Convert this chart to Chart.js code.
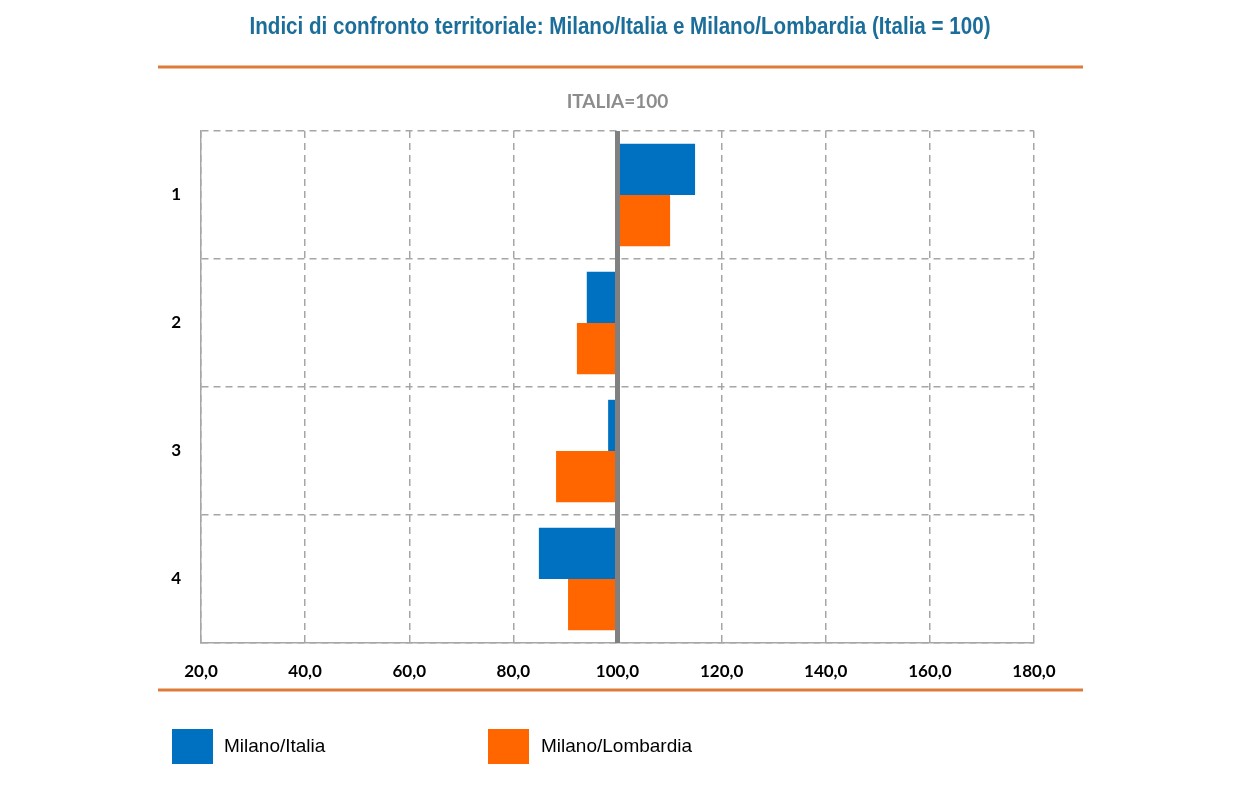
<!DOCTYPE html>
<html>
<head>
<meta charset="utf-8">
<script src="https://cdn.jsdelivr.net/npm/chart.js@4"></script>
<style>
  body { margin: 0; background: #fff; }
  #wrap { width: 1241px; height: 786px; position: relative; }
</style>
</head>
<body>
<div id="wrap"><canvas id="myChart"></canvas></div>
<script>
// data
const categories = ['1', '2', '3', '4'];
const milanoItalia = [114.9, 94.1, 98.2, 84.9];
const milanoLombardia = [110.1, 92.2, 88.2, 90.5];
const base = 100;
const xTicks = [20, 40, 60, 80, 100, 120, 140, 160, 180];

const BLUE = '#0070c0';
const ORANGE = '#ff6600';
const LINE = '#df7b3a';
const GRID = '#a6a6a6';
const TITLE = 'Indici di confronto territoriale: Milano/Italia e Milano/Lombardia (Italia = 100)';

// decorations: title, rules, ITALIA=100 label, reference line, legend
const decor = {
  id: 'decor',
  afterDatasetsDraw(chart) {
    const ctx = chart.ctx;
    const x = chart.scales.x;
    const area = chart.chartArea;
    const x100 = x.getPixelForValue(base);

    ctx.save();
    // reference line at 100
    ctx.strokeStyle = '#808080';
    ctx.lineWidth = 5;
    ctx.beginPath();
    ctx.moveTo(x100, area.top);
    ctx.lineTo(x100, area.bottom);
    ctx.stroke();

    // title (squeezed to look like a narrow face)
    ctx.fillStyle = '#1b6e9a';
    ctx.font = 'bold 23px "Liberation Sans Narrow", "Liberation Sans", sans-serif';
    ctx.textAlign = 'center';
    ctx.textBaseline = 'middle';
    const w = ctx.measureText(TITLE).width;
    const sx = Math.min(1, 741 / w);
    ctx.save();
    ctx.translate(620, 28);
    ctx.scale(sx, 1);
    ctx.fillText(TITLE, 0, 0);
    ctx.restore();

    // orange rules
    ctx.strokeStyle = LINE;
    ctx.lineWidth = 3;
    [67, 690].forEach(y => {
      ctx.beginPath();
      ctx.moveTo(158, y);
      ctx.lineTo(1083, y);
      ctx.stroke();
    });

    // ITALIA=100
    ctx.fillStyle = '#8c8c8c';
    ctx.font = 'bold 19px Lato, sans-serif';
    ctx.fillText('ITALIA=100', x100, 102);

    // legend
    const items = [[172, 224], [488, 541]];
    chart.data.datasets.forEach((ds, i) => {
      const [bx, tx] = items[i];
      ctx.fillStyle = ds.backgroundColor;
      ctx.fillRect(bx, 729, 41, 35);
      ctx.fillStyle = '#000';
      ctx.textAlign = 'left';
      ctx.font = '19px "Liberation Sans Narrow", "Liberation Sans", sans-serif';
      ctx.fillText(ds.label, tx, 747);
    });
    ctx.restore();
  }
};

const data = {
  labels: categories,
  datasets: [{
    label: 'Milano/Italia',
    backgroundColor: BLUE,
    data: milanoItalia.map(v => [base, v]),
    categoryPercentage: 0.8,
    barPercentage: 1.0
  },
  {
    label: 'Milano/Lombardia',
    backgroundColor: ORANGE,
    data: milanoLombardia.map(v => [base, v]),
    categoryPercentage: 0.8,
    barPercentage: 1.0
  }]
};

const config = {
  type: 'bar',
  data: data,
  options: {
    indexAxis: 'y',
    responsive: true,
    maintainAspectRatio: false,
    animation: false,
    layout: { padding: { top: 131, right: 207, left: 0, bottom: 0 } },
    plugins: {
      legend: { display: false },
      tooltip: { enabled: false }
    },
    scales: {
      x: {
        min: 20,
        max: 180,
        afterBuildTicks: s => { s.ticks = xTicks.map(v => ({ value: v })); },
        afterFit: s => { s.height = 143; },
        ticks: {
          padding: 18,
          color: '#000',
          font: { family: 'Lato', weight: 'bold', size: 17 },
          callback: v => v.toFixed(1).replace('.', ',')
        },
        grid: { color: GRID, lineWidth: 1.5, drawTicks: false },
        border: { color: GRID, width: 1.5, dash: [7, 5] }
      },
      y: {
        afterFit: s => { s.width = 201; },
        ticks: {
          padding: 20,
          color: '#000',
          font: { family: 'Lato', weight: 'bold', size: 17 }
        },
        grid: { color: GRID, lineWidth: 1.5, drawTicks: false, offset: true },
        border: { color: GRID, width: 1.5, dash: [7, 5] }
      }
    }
  },
  plugins: [decor]
};

const myChart = new Chart(document.getElementById('myChart'), config);
</script>
</body>
</html>
